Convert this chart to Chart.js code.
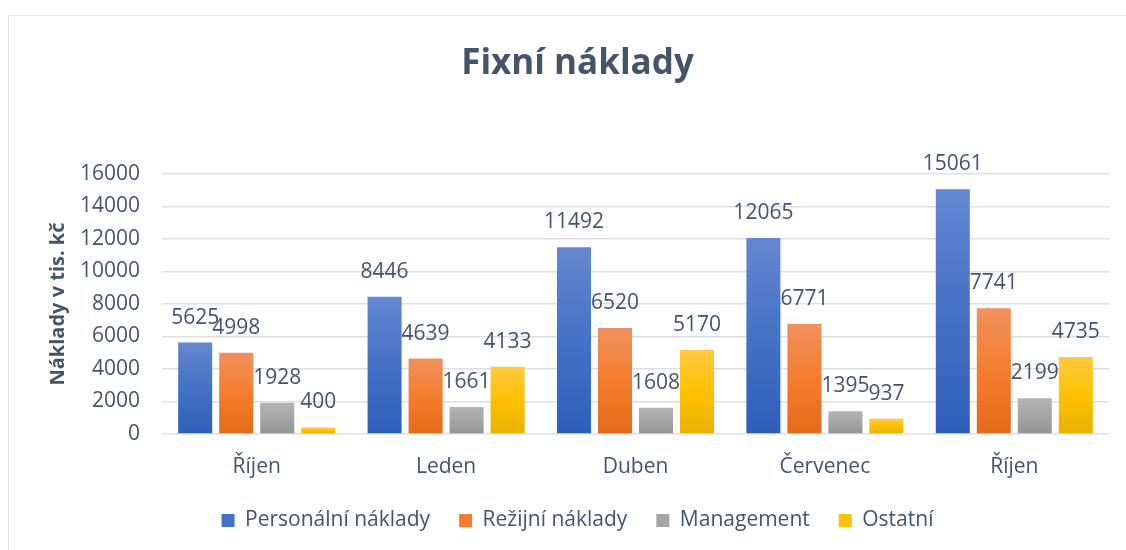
<!DOCTYPE html>
<html>
<head>
<meta charset="utf-8">
<script src="https://cdn.jsdelivr.net/npm/chart.js@4"></script>
<style>
  html, body { margin: 0; padding: 0; background: #fff; }
  #wrap { position: relative; width: 1126px; height: 550px; overflow: hidden; }
  #frame { position: absolute; left: 8px; top: 15px; width: 1130px; height: 560px; border: 1.5px solid #e2e5ea; }
  #chart { position: absolute; left: 0; top: 0; }
</style>
</head>
<body>
<div id="wrap">
  <div id="frame"></div>
  <canvas id="chart" width="1126" height="550"></canvas>
</div>
<script>
const months = ['Říjen', 'Leden', 'Duben', 'Červenec', 'Říjen'];
const personalni = [5625, 8446, 11492, 12065, 15061];
const rezijni = [4998, 4639, 6520, 6771, 7741];
const management = [1928, 1661, 1608, 1395, 2199];
const ostatni = [400, 4133, 5170, 937, 4735];
const yTicks = [0, 2000, 4000, 6000, 8000, 10000, 12000, 14000, 16000];

const textColor = '#44546a';
const fontFamily = '"Open Sans", "Noto Sans", sans-serif';

// top / middle / bottom colours of the office-style gradient
const palettes = [
  ['#6587d2', '#4472c4', '#2f5fbb'],
  ['#f0915e', '#f47c2c', '#e26a18'],
  ['#b3b3b3', '#a5a5a5', '#939393'],
  ['#ffca42', '#ffc000', '#e8b200']
];

function barGradient(stops) {
  return (ctx) => {
    const chart = ctx.chart;
    if (!chart.chartArea || ctx.raw === undefined) return stops[1];
    const y = chart.scales.y;
    const top = y.getPixelForValue(ctx.raw);
    const bottom = y.getPixelForValue(0);
    if (!isFinite(top) || bottom - top < 1) return stops[1];
    const g = chart.ctx.createLinearGradient(0, top, 0, bottom);
    g.addColorStop(0, stops[0]);
    g.addColorStop(0.5, stops[1]);
    g.addColorStop(1, stops[2]);
    return g;
  };
}

const valueLabels = {
  id: 'valueLabels',
  afterDatasetsDraw(chart) {
    const ctx = chart.ctx;
    ctx.save();
    ctx.font = '21px ' + fontFamily;
    ctx.fillStyle = textColor;
    ctx.textAlign = 'center';
    ctx.textBaseline = 'middle';
    chart.data.datasets.forEach((ds, i) => {
      chart.getDatasetMeta(i).data.forEach((bar, j) => {
        ctx.fillText(String(ds.data[j]), bar.x, bar.y - 25);
      });
    });
    ctx.restore();
  }
};

const series = [
  { label: 'Personální náklady', data: personalni },
  { label: 'Režijní náklady', data: rezijni },
  { label: 'Management', data: management },
  { label: 'Ostatní', data: ostatni }
];

new Chart(document.getElementById('chart'), {
  type: 'bar',
  data: {
    labels: months,
    datasets: series.map((s, i) => ({
      label: s.label,
      data: s.data,
      backgroundColor: barGradient(palettes[i]),
      borderWidth: 0,
      categoryPercentage: 0.866,
      barPercentage: 0.83
    }))
  },
  options: {
    responsive: false,
    animation: false,
    devicePixelRatio: 1,
    layout: { padding: { left: 46, right: 17, top: 0, bottom: 9 } },
    plugins: {
      tooltip: { enabled: false },
      title: {
        display: true,
        text: 'Fixní náklady',
        color: textColor,
        font: { family: fontFamily, size: 35, weight: 'bold', lineHeight: 1.2 },
        padding: { top: 43, bottom: 89 }
      },
      legend: {
        position: 'bottom',
        labels: {
          color: textColor,
          font: { family: fontFamily, size: 21 },
          boxWidth: 13,
          boxHeight: 13,
          padding: 29,
          generateLabels(chart) {
            return chart.data.datasets.map((ds, i) => ({
              text: ds.label,
              fillStyle: palettes[i][1],
              strokeStyle: palettes[i][1],
              lineWidth: 0,
              fontColor: textColor,
              datasetIndex: i
            }));
          }
        }
      }
    },
    scales: {
      x: {
        afterFit(scale) { scale.height = 47; },
        grid: { display: false },
        border: { display: false },
        ticks: { color: textColor, font: { family: fontFamily, size: 21 }, padding: 12 }
      },
      y: {
        min: 0,
        max: 16000,
        afterBuildTicks(scale) {
          scale.ticks = yTicks.map(v => ({ value: v }));
        },
        afterFit(scale) { scale.width = 116; },
        grid: { color: '#dcdfe4', lineWidth: 1.5, drawTicks: false },
        border: { display: false },
        ticks: {
          color: textColor,
          font: { family: fontFamily, size: 21 },
          padding: 22,
          callback: (v) => String(v)
        },
        title: {
          display: true,
          text: 'Náklady v tis. kč',
          color: textColor,
          font: { family: fontFamily, size: 20, weight: 'bold' },
          padding: { top: 0, bottom: 0 }
        }
      }
    }
  },
  plugins: [valueLabels]
});
</script>
</body>
</html>
